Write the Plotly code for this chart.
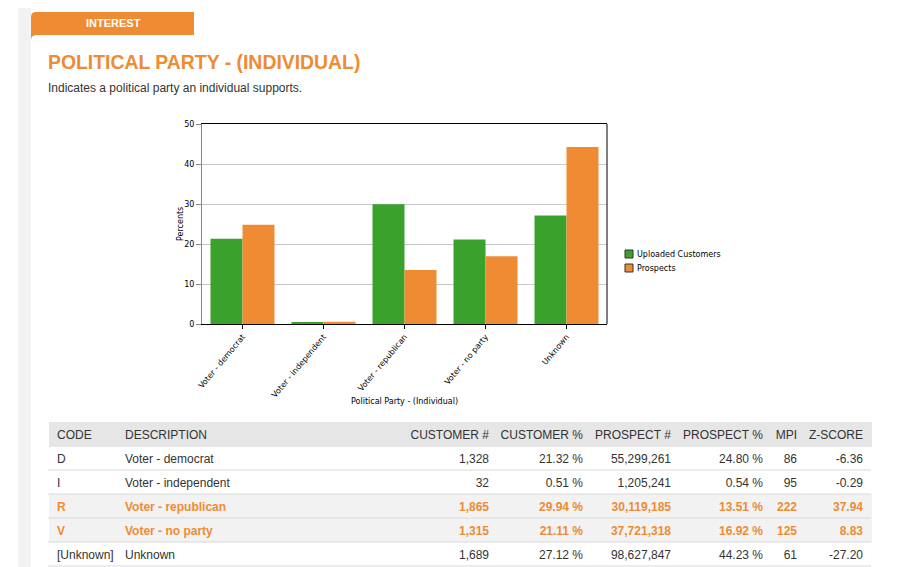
import plotly.graph_objects as go

# Chart data
categories = ['Voter - democrat', 'Voter - independent', 'Voter - republican',
              'Voter - no party', 'Unknown']
customer_pct = [21.32, 0.51, 29.94, 21.11, 27.12]
prospect_pct = [24.80, 0.54, 13.51, 16.92, 44.23]
series_names = ['Uploaded Customers', 'Prospects']

# Table data
codes = ['D', 'I', 'R', 'V', '[Unknown]']
customer_count = [1328, 32, 1865, 1315, 1689]
prospect_count = [55299261, 1205241, 30119185, 37721318, 98627847]
mpi = [86, 95, 222, 125, 61]
z_score = [-6.36, -0.29, 37.94, 8.83, -27.20]
highlighted = [False, False, True, True, False]

headers = ['CODE', 'DESCRIPTION', 'CUSTOMER #', 'CUSTOMER %', 'PROSPECT #',
           'PROSPECT %', 'MPI', 'Z-SCORE']

ORANGE = '#ee8b33'
GREEN = '#3aa22c'
W, H = 903, 567
FONT = 'Liberation Sans, Arial'
SMALL = 'DejaVu Sans'
ROW_H = 24
TABLE_TOP = 422


def px(x):
    return x / W


def py(y):
    return 1 - y / H


fig = go.Figure()

fig.add_trace(go.Bar(x=categories, y=customer_pct, name=series_names[0],
                     marker=dict(color=GREEN, line=dict(width=0)),
                     showlegend=False))
fig.add_trace(go.Bar(x=categories, y=prospect_pct, name=series_names[1],
                     marker=dict(color=ORANGE, line=dict(width=0)),
                     showlegend=False))

# table columns
columns = [
    codes,
    categories,
    [f'{v:,}' for v in customer_count],
    [f'{v:.2f} %' for v in customer_pct],
    [f'{v:,}' for v in prospect_count],
    [f'{v:.2f} %' for v in prospect_pct],
    [str(v) for v in mpi],
    [f'{v:.2f}' for v in z_score],
]
col_widths = [68, 283, 97, 94, 88, 92, 34, 66]
col_align = ['left', 'left'] + ['right'] * 6


def row_style(hl):
    fill = '#f2f2f2' if hl else 'white'
    font = dict(family=FONT, size=12, color=ORANGE if hl else '#333333',
                weight='bold' if hl else 'normal')
    return fill, font


# plotly tables style per column only, so rows of one style go in one block;
# later blocks use their first row as the top (header) row
blocks = []
start = 0
for i in range(1, len(codes) + 1):
    if i == len(codes) or highlighted[i] != highlighted[start]:
        blocks.append((start, i, highlighted[start]))
        start = i

for n, (a, b, hl) in enumerate(blocks):
    fill, font = row_style(hl)
    if n == 0:
        top = TABLE_TOP
        header = dict(values=[h.replace(' ', '\u00a0') for h in headers],
                      height=ROW_H, fill_color='#e6e6e6',
                      line=dict(color='#e6e6e6', width=1), align=col_align,
                      font=dict(family=FONT, size=12, color='#333333'))
        body = [col[a:b] for col in columns]
    else:
        top = TABLE_TOP + ROW_H * (a + 1)
        header = dict(values=[col[a] for col in columns], height=ROW_H,
                      fill_color=fill, line=dict(color=fill, width=1),
                      align=col_align, font=font)
        body = [col[a + 1:b] for col in columns]
    bottom = TABLE_TOP + ROW_H * (b + 1)
    fig.add_trace(go.Table(
        domain=dict(x=[px(49), px(871)], y=[py(bottom), py(top)]),
        columnwidth=col_widths,
        header=header,
        cells=dict(values=body, height=ROW_H,
                   fill_color=fill, line=dict(color=fill, width=1),
                   align=col_align, font=font),
    ))

shapes = []
# gray strip on the left
shapes.append(dict(type='rect', xref='paper', yref='paper',
                   x0=px(18), x1=px(31), y0=0, y1=py(8),
                   fillcolor='#f2f2f2', line=dict(width=0), layer='below'))
# orange tab with rounded corner
tab_path = (f'M {px(31)},{py(40)} L {px(31)},{py(17)} '
            f'Q {px(31)},{py(12)} {px(36)},{py(12)} '
            f'L {px(194)},{py(12)} L {px(194)},{py(35)} '
            f'L {px(37)},{py(35)} Q {px(31)},{py(35)} {px(31)},{py(40)} Z')
shapes.append(dict(type='path', xref='paper', yref='paper', path=tab_path,
                   fillcolor=ORANGE, line=dict(width=0)))
# right border of the plot box
shapes.append(dict(type='line', xref='x domain', yref='y domain',
                   x0=1, x1=1, y0=0, y1=1, line=dict(color='black', width=1)))
# table row separators
for i in range(1, len(codes) + 1):
    y = TABLE_TOP + ROW_H * (i + 1)
    shapes.append(dict(type='line', xref='paper', yref='paper',
                       x0=px(48), x1=px(871), y0=py(y), y1=py(y),
                       line=dict(color='#d9d9d9', width=1)))
# legend swatches
for name, color, y in zip(series_names, [GREEN, ORANGE], [254, 268]):
    shapes.append(dict(type='rect', xref='paper', yref='paper',
                       x0=px(625), x1=px(633), y0=py(y - 4), y1=py(y + 4),
                       fillcolor=color, line=dict(color='#333333', width=1)))

annotations = [
    dict(text='<b>INTEREST</b>', x=px(113), y=py(23), xref='paper',
         yref='paper', xanchor='center', yanchor='middle', showarrow=False,
         font=dict(family=FONT, size=11, color='white')),
    dict(text='<b>POLITICAL PARTY - (INDIVIDUAL)</b>', x=px(46), y=py(62),
         xref='paper', yref='paper', xanchor='left', yanchor='middle',
         showarrow=False, font=dict(family=FONT, size=19.4, color=ORANGE)),
    dict(text='Indicates a political party an individual supports.',
         x=px(46), y=py(88), xref='paper', yref='paper', xanchor='left',
         yanchor='middle', showarrow=False,
         font=dict(family=FONT, size=12, color='#333333')),
    dict(text='Percents', x=px(180), y=py(224), xref='paper', yref='paper',
         xanchor='center', yanchor='middle', textangle=-90, showarrow=False,
         font=dict(family=SMALL, size=8, color='black')),
    dict(text='Political Party - (Individual)', x=px(404), y=py(401),
         xref='paper', yref='paper', xanchor='center', yanchor='middle',
         showarrow=False, font=dict(family=SMALL, size=8, color='black')),
]
for name, y in zip(series_names, [254, 268]):
    annotations.append(dict(text=name, x=px(635), y=py(y), xref='paper',
                            yref='paper', xanchor='left', yanchor='middle',
                            showarrow=False,
                            font=dict(family=SMALL, size=8, color='black')))

fig.update_layout(
    width=W, height=H,
    margin=dict(l=0, r=0, t=0, b=0, pad=0, autoexpand=False),
    paper_bgcolor='white', plot_bgcolor='white',
    barmode='group', bargap=0.21, bargroupgap=0,
    font=dict(family=SMALL, size=8, color='black'),
    shapes=shapes, annotations=annotations,
    showlegend=False,
    xaxis=dict(domain=[px(202), px(607)], showline=True, linecolor='black',
               mirror=True, ticks='outside', ticklen=4, tickcolor='black',
               tickangle=-50, showgrid=False, automargin=False,
               tickfont=dict(family=SMALL, size=8)),
    yaxis=dict(domain=[py(324), py(124)], range=[0, 50], dtick=10,
               showline=True, linecolor='#888888', ticks='outside',
               ticklen=5, tickcolor='#888888', showgrid=True,
               gridcolor='#c8c8c8', zeroline=False, automargin=False,
               tickfont=dict(family=SMALL, size=8)),
)

fig.write_html('out.html', config={'displayModeBar': False},
               post_script="document.body.style.margin='0px';")
